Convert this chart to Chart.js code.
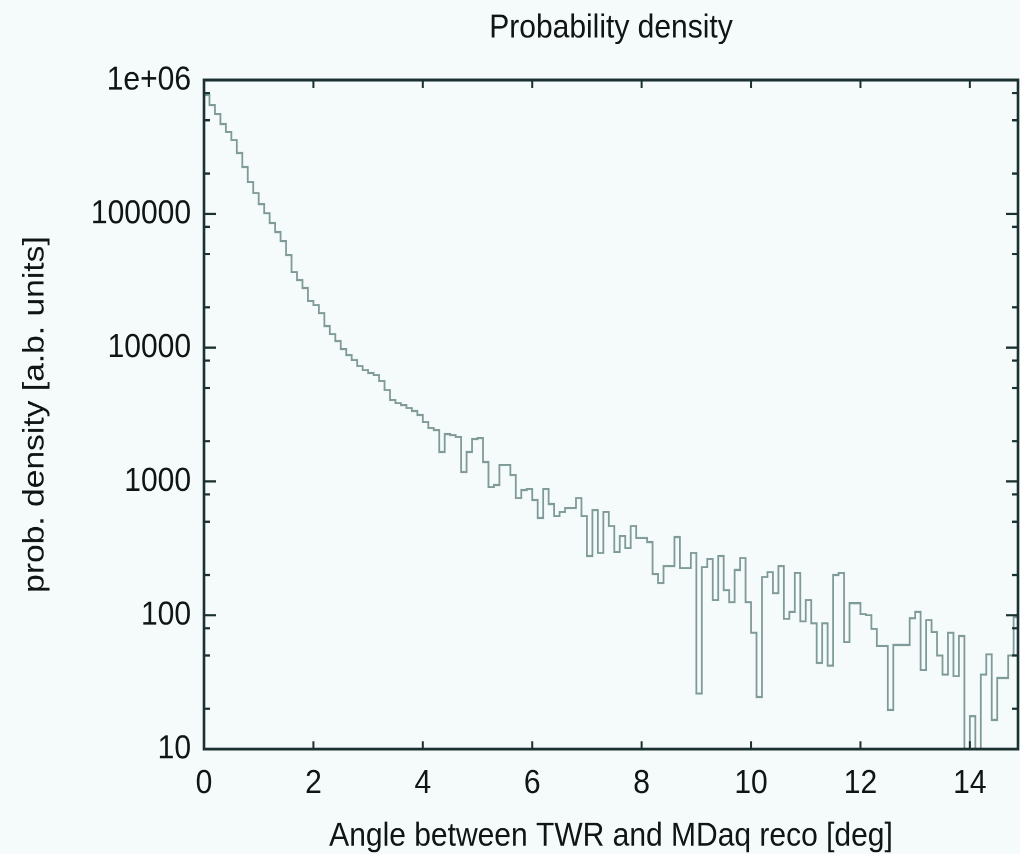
<!DOCTYPE html>
<html>
<head>
<meta charset="utf-8">
<title>Probability density</title>
<script src="https://cdn.jsdelivr.net/npm/chart.js@4.4.1/dist/chart.umd.min.js"></script>
<style>
  html { overflow: hidden; background: #f5fafa; }
  body { margin: 0; padding: 0; width: 1020px; height: 854px; background: #f5fafa; }
  /* the original picture is stretched a bit in height, so is this one */
  #wrap { width: 1020px; height: 763px; transform: scale(1, 1.1193); transform-origin: 0 0; }
  canvas { display: block; }
</style>
</head>
<body>
<div id="wrap"><canvas id="grafico" width="1020" height="763"></canvas></div>
<script>
/* ── Dados ── */
const BIN_WIDTH = 0.1;   // deg

const counts = [
  772000, 650000, 557000, 469000, 409000, 356000, 285000, 224000, 173000, 143000,
  118000, 101000, 85400, 73100, 62600, 49200, 36700, 32000, 27900, 22300,
  20800, 18100, 14500, 12600, 11200, 9760, 8800, 8080, 7290, 6800,
  6460, 6240, 5630, 4820, 4060, 3850, 3720, 3540, 3360, 3140,
  2780, 2510, 2420, 1660, 2260, 2220, 2150, 1175, 1660, 2075,
  2110, 1396, 908, 940, 1327, 1327, 1116, 751, 862, 877,
  726, 533, 877, 678, 551, 591, 633, 633, 751, 551,
  277, 611, 292, 591, 464, 297, 391, 318, 464, 378,
  378, 352, 203, 174, 233, 233, 384, 225, 225, 292,
  26, 229, 263, 130, 277, 154, 125, 218, 268, 125,
  74, 24.5, 193, 210, 146, 233, 94, 106, 207, 90,
  130, 87, 44, 87, 42, 200, 207, 63, 123, 123,
  102, 100, 79, 59, 59, 19.6, 60, 60, 60, 95,
  106, 39, 92, 75, 50, 36, 74, 35, 70, 10,
  17.6, 10, 36, 51, 16.5, 34, 34, 50, 97
];

const xTicks = [0, 2, 4, 6, 8, 10, 12, 14];
const yMajorTicks = [10, 100, 1000, 10000, 100000, 1000000];
const yMajorLabels = ['10', '100', '1000', '10000', '100000', '1e+06'];
const yMinorSteps = [2, 5, 8];

const X_MAX = 14.88;
const COR_EIXO = '#1b3131';
const COR_LINHA = '#7f9b99';
const COR_TEXTO = '#0f1515';
const FONTE = '"Liberation Sans", Arial, Helvetica, sans-serif';

// pontos no centro de cada bin; 'middle' poe os degraus nas bordas
const pontos = [{ x: 0, y: counts[0] }];
counts.forEach((v, i) => pontos.push({ x: (i + 0.5) * BIN_WIDTH, y: v }));
pontos.push({ x: counts.length * BIN_WIDTH, y: counts[counts.length - 1] });

const yTodos = [];
yMajorTicks.forEach((v, i) => {
  yTodos.push(v);
  if (i < yMajorTicks.length - 1) yMinorSteps.forEach(m => yTodos.push(v * m));
});

/* ── Moldura e ticks para dentro (estilo gnuplot) ── */
const moldura = {
  id: 'moldura',
  afterDatasetsDraw(chart) {
    const { ctx, chartArea: { left, right, top, bottom }, scales: { x, y } } = chart;
    const linha = (x1, y1, x2, y2) => { ctx.beginPath(); ctx.moveTo(x1, y1); ctx.lineTo(x2, y2); ctx.stroke(); };
    ctx.save();
    ctx.strokeStyle = COR_EIXO;
    ctx.lineWidth = 2;
    x.ticks.forEach(t => {
      const px = x.getPixelForValue(t.value);
      linha(px, bottom, px, bottom - 7);
      linha(px, top, px, top + 7);
    });
    y.ticks.forEach(t => {
      const py = y.getPixelForValue(t.value);
      const len = yMajorTicks.includes(t.value) ? 12 : 6;
      linha(left, py, left + len, py);
      linha(right, py, right - len, py);
    });
    ctx.lineWidth = 2.6;
    ctx.strokeRect(left, top, right - left, bottom - top);
    ctx.restore();
  }
};

Chart.defaults.font.family = FONTE;
Chart.defaults.color = COR_TEXTO;

const semGrade = { display: false, drawTicks: false };

new Chart(document.getElementById('grafico'), {
  type: 'line',
  data: {
    datasets: [{
      data: pontos,
      borderColor: COR_LINHA,
      borderWidth: 1.8,
      stepped: 'middle',
      pointRadius: 0,
      fill: false
    }]
  },
  options: {
    responsive: false,
    animation: false,
    devicePixelRatio: 2,
    layout: { padding: { left: 0, right: 2, top: 0, bottom: 0 } },
    plugins: {
      legend: { display: false },
      tooltip: { enabled: false }
    },
    scales: {
      x: {
        type: 'linear', position: 'bottom', min: 0, max: X_MAX,
        grid: semGrade, border: { display: false },
        afterBuildTicks: s => { s.ticks = xTicks.map(v => ({ value: v })); },
        ticks: { autoSkip: false, maxRotation: 0, padding: 13, font: { size: 30 }, callback: v => String(v) },
        title: {
          display: true, text: 'Angle between TWR and MDaq reco [deg]',
          font: { size: 30, lineHeight: 1 }, padding: { top: 0, bottom: 1 }
        },
        afterFit: s => { s.height = 93.8; }
      },
      topo: {
        type: 'linear', position: 'top',
        grid: semGrade, border: { display: false },
        ticks: { display: false },
        title: {
          display: true, text: 'Probability density',
          font: { size: 30, lineHeight: 1 }, padding: { top: 10, bottom: 0 }
        },
        afterFit: s => { s.height = 71.5; }
      },
      y: {
        type: 'logarithmic', min: 10, max: 1000000,
        grid: semGrade, border: { display: false },
        afterBuildTicks: s => { s.ticks = yTodos.map(v => ({ value: v })); },
        ticks: {
          autoSkip: false, padding: 13, font: { size: 30 },
          callback: v => {
            const i = yMajorTicks.indexOf(v);
            return i >= 0 ? yMajorLabels[i] : '';
          }
        },
        title: {
          display: true, text: 'prob. density [a.b. units]',
          font: { size: 30, lineHeight: 1 }, padding: { top: 20, bottom: 0 }
        },
        afterFit: s => { s.width = 204; }
      }
    }
  },
  plugins: [moldura]
});
</script>
</body>
</html>
